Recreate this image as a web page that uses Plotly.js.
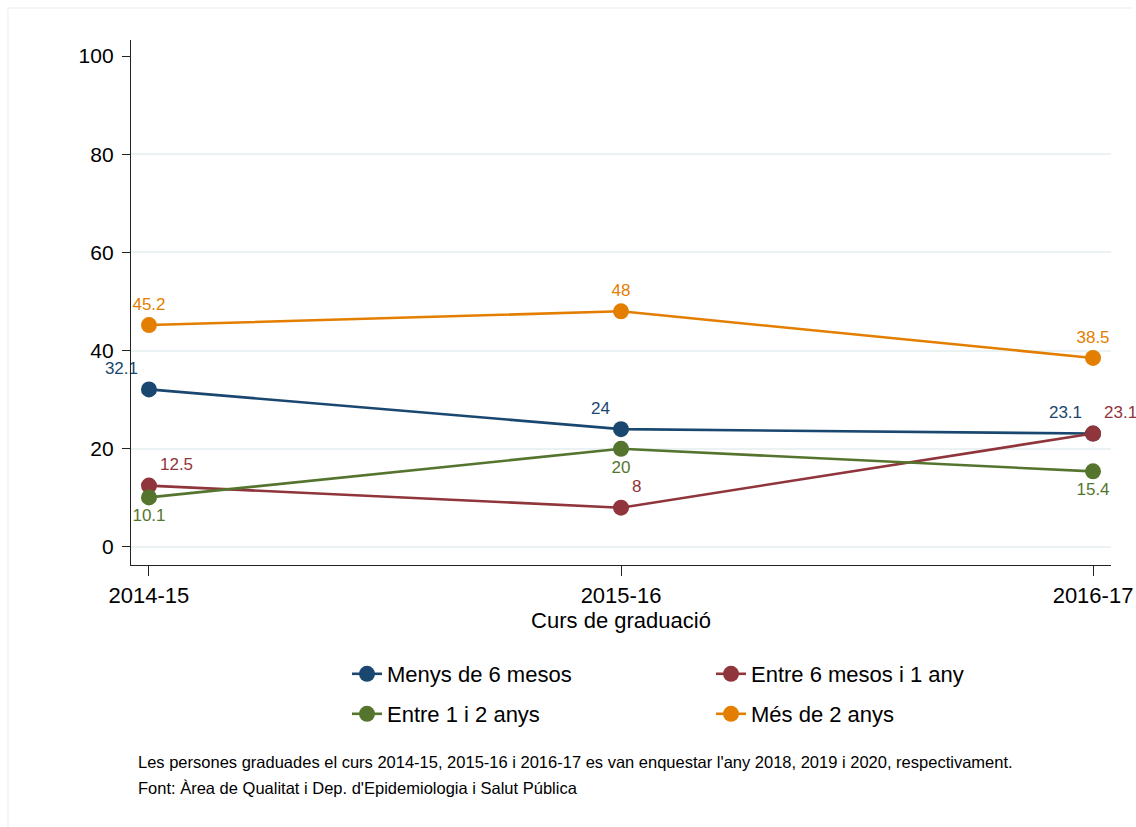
<!DOCTYPE html>
<html>
<head>
<meta charset="utf-8">
<script src="https://cdn.plot.ly/plotly-3.0.1.min.js"></script>
<style>html,body{margin:0;padding:0;background:#fff;overflow:hidden;}</style>
</head>
<body>
<div id="chart" style="width:1136px;height:827px;"></div>
<script>
const categories = ["2014-15", "2015-16", "2016-17"];
const seriesNames = ["Menys de 6 mesos", "Entre 6 mesos i 1 any", "Entre 1 i 2 anys", "Més de 2 anys"];
const menys6 = [32.1, 24, 23.1];
const entre6i1 = [12.5, 8, 23.1];
const entre1i2 = [10.1, 20, 15.4];
const mes2 = [45.2, 48, 38.5];
const yTicks = [0, 20, 40, 60, 80, 100];
const gridVals = [0, 20, 40, 60, 80];
const footnotes = [
  "Les persones graduades el curs 2014-15, 2015-16 i 2016-17 es van enquestar l'any 2018, 2019 i 2020, respectivament.",
  "Font: Àrea de Qualitat i Dep. d'Epidemiologia i Salut Pública"
];
const xTitle = "Curs de graduació";

const colors = ["#1a476f", "#90353b", "#55752f", "#e37e00"];
const values = [menys6, entre6i1, entre1i2, mes2];
const positions = ["top left", "top right", "bottom center", "top center"];
const legends = ["legend", "legend", "legend2", "legend2"];

const traces = values.map((v, i) => ({
  type: "scatter",
  mode: "lines+markers+text",
  x: categories,
  y: v,
  name: seriesNames[i],
  legend: legends[i],
  line: {color: colors[i], width: 2.6},
  marker: {color: colors[i], size: 16},
  text: v.map(String),
  textposition: positions[i],
  textfont: {family: "Liberation Sans, Arial, sans-serif", size: 17, color: colors[i]},
  cliponaxis: false,
  hoverinfo: "x+y+name"
}));

traces.push({
  type: "scatter", mode: "none", x: categories, y: [null, null, null],
  yaxis: "y2", showlegend: false, hoverinfo: "skip"
});

const W = 1136, H = 827, L = 131, R = 25, T = 40, B = 262;
const pw = W - L - R, ph = H - T - B;
const px = x => (x - L) / pw;
const py = y => (H - B - y) / ph;

const font = {family: "Liberation Sans, Arial, sans-serif", color: "#000"};

const legendCommon = {
  orientation: "h",
  xanchor: "left", yanchor: "middle",
  entrywidth: 319, entrywidthmode: "pixels",
  font: {size: 22, color: "#000"},
  bgcolor: "rgba(0,0,0,0)"
};

const frameLine = {color: "#eef3f3", width: 1.5};

const layout = {
  autosize: false,
  width: W, height: H,
  margin: {l: L, r: R, t: T, b: B},
  paper_bgcolor: "#fff",
  plot_bgcolor: "#fff",
  font: font,
  showlegend: true,
  xaxis: {
    type: "category",
    range: [-0.0381, 2.0381],
    showgrid: false,
    zeroline: false,
    showline: true, linecolor: "#222", linewidth: 1.3,
    ticks: "outside", ticklen: 10, tickcolor: "#222", tickwidth: 1.3,
    tickfont: {size: 22, color: "#000"},
    title: {text: xTitle, font: {size: 22, color: "#000"}, standoff: 0}
  },
  yaxis: {
    range: [-3.67, 103.26],
    tickvals: yTicks,
    showgrid: false,
    zeroline: false,
    showline: true, linecolor: "#222", linewidth: 1.3,
    ticks: "outside", ticklen: 8, tickcolor: "#222", tickwidth: 1.3,
    tickfont: {size: 21, color: "#000"},
    ticklabelstandoff: 4
  },
  yaxis2: {
    overlaying: "y",
    range: [-3.67, 103.26],
    tickvals: gridVals,
    showgrid: true, gridcolor: "#eaf2f3", gridwidth: 2,
    showticklabels: false, zeroline: false, showline: false, ticks: ""
  },
  legend: Object.assign({x: px(347), y: py(674)}, legendCommon),
  legend2: Object.assign({x: px(347), y: py(714)}, legendCommon),
  annotations: footnotes.map((t, i) => ({
    text: t, xref: "paper", yref: "paper",
    x: px(136), y: py(762 + 26 * i), xanchor: "left", yanchor: "middle",
    showarrow: false, font: {size: 16.5, color: "#000"}
  })),
  shapes: [
    {type: "line", xref: "paper", yref: "paper",
     x0: px(8), x1: px(1133), y0: py(8), y1: py(8), line: frameLine, layer: "below"},
    {type: "line", xref: "paper", yref: "paper",
     x0: px(8), x1: px(8), y0: py(8), y1: py(830), line: frameLine, layer: "below"}
  ]
};

Plotly.newPlot("chart", traces, layout, {displayModeBar: false, responsive: false});
</script>
</body>
</html>
